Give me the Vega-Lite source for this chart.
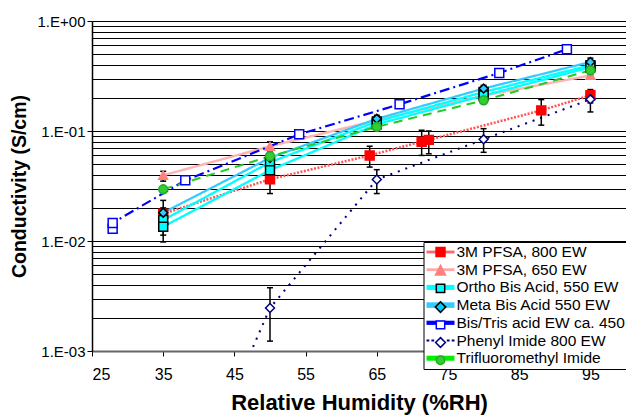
{
  "$schema": "https://vega.github.io/schema/vega-lite/v6.json",
  "width": 534,
  "height": 330,
  "autosize": "none",
  "padding": {"left": 92, "top": 21, "right": 0, "bottom": 68},
  "background": "white",
  "config": {
    "view": {"stroke": null},
    "axisY": {
      "labelFont": "Liberation Sans",
      "labelFontSize": 15, "labelColor": "black", "labelPadding": 2,
      "tickColor": "black", "tickWidth": 1, "tickSize": 5,
      "domainColor": "black", "domainWidth": 1.5,
      "titleFont": "Liberation Sans", "titleFontWeight": "bold", "titleFontSize": 19.5,
      "titleColor": "black", "titlePadding": 8
    },
    "axisX": {
      "labelFont": "Liberation Sans",
      "labelFontSize": 16, "labelColor": "black", "labelPadding": 10,
      "tickColor": "black", "tickWidth": 1, "tickSize": 5,
      "domainColor": "#666666", "domainWidth": 2,
      "titleFont": "Liberation Sans", "titleFontWeight": "bold", "titleFontSize": 22,
      "titleColor": "black", "titlePadding": 10
    }
  },
  "datasets": {
    "pts": [
      {"s": "3M PFSA, 800 EW", "run": "a", "i": 1, "x": 35, "y": 0.0177},
      {"s": "3M PFSA, 800 EW", "run": "a", "i": 2, "x": 50, "y": 0.0364},
      {"s": "3M PFSA, 800 EW", "run": "a", "i": 3, "x": 64, "y": 0.060},
      {"s": "3M PFSA, 800 EW", "run": "a", "i": 4, "x": 71.3, "y": 0.080},
      {"s": "3M PFSA, 800 EW", "run": "a", "i": 5, "x": 72.3, "y": 0.083},
      {"s": "3M PFSA, 800 EW", "run": "a", "i": 6, "x": 88.1, "y": 0.154},
      {"s": "3M PFSA, 800 EW", "run": "a", "i": 7, "x": 95, "y": 0.211},
      {"s": "3M PFSA, 650 EW", "run": "a", "i": 1, "x": 35, "y": 0.0396},
      {"s": "3M PFSA, 650 EW", "run": "a", "i": 2, "x": 50, "y": 0.0726},
      {"s": "3M PFSA, 650 EW", "run": "a", "i": 3, "x": 65, "y": 0.125},
      {"s": "3M PFSA, 650 EW", "run": "a", "i": 4, "x": 80, "y": 0.21},
      {"s": "3M PFSA, 650 EW", "run": "a", "i": 5, "x": 95, "y": 0.32},
      {"s": "Ortho Bis Acid, 550 EW", "run": "a", "i": 1, "x": 35, "y": 0.0155},
      {"s": "Ortho Bis Acid, 550 EW", "run": "a", "i": 2, "x": 50, "y": 0.052},
      {"s": "Ortho Bis Acid, 550 EW", "run": "a", "i": 3, "x": 65, "y": 0.122},
      {"s": "Ortho Bis Acid, 550 EW", "run": "a", "i": 4, "x": 80, "y": 0.226},
      {"s": "Ortho Bis Acid, 550 EW", "run": "a", "i": 5, "x": 95, "y": 0.396},
      {"s": "Ortho Bis Acid, 550 EW", "run": "b", "i": 1, "x": 35, "y": 0.0135},
      {"s": "Ortho Bis Acid, 550 EW", "run": "b", "i": 2, "x": 50, "y": 0.044},
      {"s": "Ortho Bis Acid, 550 EW", "run": "b", "i": 3, "x": 65, "y": 0.115},
      {"s": "Ortho Bis Acid, 550 EW", "run": "b", "i": 4, "x": 80, "y": 0.21},
      {"s": "Ortho Bis Acid, 550 EW", "run": "b", "i": 5, "x": 95, "y": 0.38},
      {"s": "Meta Bis Acid 550 EW", "run": "a", "i": 1, "x": 35, "y": 0.0181},
      {"s": "Meta Bis Acid 550 EW", "run": "a", "i": 2, "x": 50, "y": 0.057},
      {"s": "Meta Bis Acid 550 EW", "run": "a", "i": 3, "x": 65, "y": 0.129},
      {"s": "Meta Bis Acid 550 EW", "run": "a", "i": 4, "x": 80, "y": 0.243},
      {"s": "Meta Bis Acid 550 EW", "run": "a", "i": 5, "x": 95, "y": 0.424},
      {"s": "Bis/Tris acid EW ca. 450", "run": "a", "i": 1, "x": 27.9, "y": 0.0129},
      {"s": "Bis/Tris acid EW ca. 450", "run": "a", "i": 2, "x": 27.9, "y": 0.0146},
      {"s": "Bis/Tris acid EW ca. 450", "run": "a", "i": 3, "x": 38.1, "y": 0.0356},
      {"s": "Bis/Tris acid EW ca. 450", "run": "a", "i": 4, "x": 54.1, "y": 0.0933},
      {"s": "Bis/Tris acid EW ca. 450", "run": "a", "i": 5, "x": 68.2, "y": 0.175},
      {"s": "Bis/Tris acid EW ca. 450", "run": "a", "i": 6, "x": 82.2, "y": 0.337},
      {"s": "Bis/Tris acid EW ca. 450", "run": "a", "i": 7, "x": 91.7, "y": 0.553},
      {"s": "Phenyl Imide 800 EW", "run": "a", "i": 1, "x": 40, "y": 0.00008},
      {"s": "Phenyl Imide 800 EW", "run": "a", "i": 2, "x": 50, "y": 0.00246},
      {"s": "Phenyl Imide 800 EW", "run": "a", "i": 3, "x": 65, "y": 0.0362},
      {"s": "Phenyl Imide 800 EW", "run": "a", "i": 4, "x": 80, "y": 0.084},
      {"s": "Phenyl Imide 800 EW", "run": "a", "i": 5, "x": 95, "y": 0.194},
      {"s": "Trifluoromethyl Imide", "run": "a", "i": 1, "x": 35, "y": 0.0295},
      {"s": "Trifluoromethyl Imide", "run": "a", "i": 2, "x": 50, "y": 0.0589},
      {"s": "Trifluoromethyl Imide", "run": "a", "i": 3, "x": 65, "y": 0.109},
      {"s": "Trifluoromethyl Imide", "run": "a", "i": 4, "x": 80, "y": 0.19},
      {"s": "Trifluoromethyl Imide", "run": "a", "i": 5, "x": 95, "y": 0.356}
    ],
    "err": [
      {"x": 35, "lo": 0.035, "hi": 0.043},
      {"x": 35, "lo": 0.0098, "hi": 0.0234},
      {"x": 35, "lo": 0.0113, "hi": 0.020},
      {"x": 50, "lo": 0.066, "hi": 0.0797},
      {"x": 50, "lo": 0.027, "hi": 0.046},
      {"x": 50, "lo": 0.040, "hi": 0.062},
      {"x": 64, "lo": 0.047, "hi": 0.0727},
      {"x": 50, "lo": 0.00123, "hi": 0.00376},
      {"x": 65, "lo": 0.027, "hi": 0.0445},
      {"x": 65, "lo": 0.100, "hi": 0.139},
      {"x": 71.3, "lo": 0.060, "hi": 0.1016},
      {"x": 72.3, "lo": 0.062, "hi": 0.100},
      {"x": 80, "lo": 0.18, "hi": 0.26},
      {"x": 80, "lo": 0.064, "hi": 0.105},
      {"x": 88.1, "lo": 0.113, "hi": 0.193},
      {"x": 95, "lo": 0.32, "hi": 0.46},
      {"x": 95, "lo": 0.18, "hi": 0.238},
      {"x": 95, "lo": 0.149, "hi": 0.226}
    ]
  },
  "encoding": {
    "x": {
      "field": "x", "type": "quantitative",
      "scale": {"domain": [25, 100], "nice": false, "zero": false},
      "axis": {"values": [25, 35, 45, 55, 65, 75, 85, 95], "grid": false, "title": "Relative Humidity (%RH)", "labelOverlap": false}
    },
    "y": {
      "field": "y", "type": "quantitative",
      "scale": {"type": "log", "domain": [0.001, 1], "nice": false},
      "axis": {
        "title": "Conductivity (S/cm)",
        "values": [0.001, 0.002, 0.003, 0.004, 0.005, 0.006, 0.007, 0.008, 0.009, 0.01, 0.02, 0.03, 0.04, 0.05, 0.06, 0.07, 0.08, 0.09, 0.1, 0.2, 0.3, 0.4, 0.5, 0.6, 0.7, 0.8, 0.9, 1],
        "grid": true, "gridColor": "black", "gridWidth": 1, "gridOpacity": 1,
        "labelOverlap": false,
        "labelExpr": "abs(log(datum.value)/LN10 - round(log(datum.value)/LN10)) < 0.000001 ? ('1.E' + (datum.value > 0.999 ? '+00' : '-0' + round(-log(datum.value)/LN10))) : ''",
        "tickOpacity": {"condition": {"test": "abs(log(datum.value)/LN10 - round(log(datum.value)/LN10)) < 0.000001", "value": 1}, "value": 0}
      }
    }
  },
  "layer": [
    {
      "data": {"values": [{}]},
      "mark": {"type": "rect", "fill": "white", "stroke": "black", "strokeWidth": 1.5},
      "encoding": {
        "x": {"datum": 32.83, "type": "quantitative"},
        "x2": {"datum": 42.32},
        "y": {"datum": 0.593, "type": "quantitative"},
        "y2": {"datum": 0.2603}
      }
    },
    {
      "data": {"values": [{}]},
      "mark": {"type": "text", "text": "80ºC", "font": "Liberation Serif", "fontWeight": "bold", "fontSize": 26, "align": "center", "baseline": "alphabetic", "color": "black"},
      "encoding": {
        "x": {"datum": 37.55, "type": "quantitative"},
        "y": {"datum": 0.31, "type": "quantitative"}
      }
    },
    {
      "data": {"name": "pts"},
      "mark": {"type": "line", "clip": true},
      "encoding": {
        "color": {"field": "s", "type": "nominal", "legend": null,
          "scale": {"domain": ["3M PFSA, 800 EW", "3M PFSA, 650 EW", "Ortho Bis Acid, 550 EW", "Meta Bis Acid 550 EW", "Bis/Tris acid EW ca. 450", "Phenyl Imide 800 EW", "Trifluoromethyl Imide"],
                    "range": ["#FF5555", "#FFB4B4", "#00FFFF", "#33CCFF", "#0000FF", "#000080", "#22CC22"]}},
        "strokeWidth": {"field": "s", "type": "nominal", "legend": null,
          "scale": {"domain": ["3M PFSA, 800 EW", "3M PFSA, 650 EW", "Ortho Bis Acid, 550 EW", "Meta Bis Acid 550 EW", "Bis/Tris acid EW ca. 450", "Phenyl Imide 800 EW", "Trifluoromethyl Imide"],
                    "range": [2.5, 2, 5.5, 6.5, 2, 2, 2.5]}},
        "strokeDash": {"field": "s", "type": "nominal", "legend": null,
          "scale": {"domain": ["3M PFSA, 800 EW", "3M PFSA, 650 EW", "Ortho Bis Acid, 550 EW", "Meta Bis Acid 550 EW", "Bis/Tris acid EW ca. 450", "Phenyl Imide 800 EW", "Trifluoromethyl Imide"],
                    "range": [[2, 1.5], [1, 0], [1, 0], [1, 0], [10, 4, 2, 4], [2, 6], [9, 6]]}},
        "detail": {"field": "run"},
        "order": {"field": "i", "type": "quantitative"}
      }
    },
    {
      "data": {"name": "err"},
      "mark": {"type": "rule", "color": "black", "strokeWidth": 1.5, "clip": true},
      "encoding": {
        "y": {"field": "lo", "type": "quantitative"},
        "y2": {"field": "hi"}
      }
    },
    {
      "data": {"name": "err"},
      "mark": {"type": "tick", "orient": "horizontal", "color": "black", "size": 6, "thickness": 1.5, "opacity": 1},
      "encoding": {
        "y": {"field": "lo", "type": "quantitative"}
      }
    },
    {
      "data": {"name": "err"},
      "mark": {"type": "tick", "orient": "horizontal", "color": "black", "size": 6, "thickness": 1.5, "opacity": 1},
      "encoding": {
        "y": {"field": "hi", "type": "quantitative"}
      }
    },
    {
      "data": {"name": "pts"},
      "mark": {"type": "point", "filled": true, "size": 80, "strokeWidth": 1.5, "opacity": 1, "clip": true},
      "encoding": {
        "shape": {"field": "s", "type": "nominal", "legend": null,
          "scale": {"domain": ["3M PFSA, 800 EW", "3M PFSA, 650 EW", "Ortho Bis Acid, 550 EW", "Meta Bis Acid 550 EW", "Bis/Tris acid EW ca. 450", "Phenyl Imide 800 EW", "Trifluoromethyl Imide"],
                    "range": ["square", "triangle-up", "square", "diamond", "square", "diamond", "circle"]}},
        "fill": {"field": "s", "type": "nominal", "legend": null,
          "scale": {"domain": ["3M PFSA, 800 EW", "3M PFSA, 650 EW", "Ortho Bis Acid, 550 EW", "Meta Bis Acid 550 EW", "Bis/Tris acid EW ca. 450", "Phenyl Imide 800 EW", "Trifluoromethyl Imide"],
                    "range": ["#FF0000", "#FF8080", "#00FFFF", "#33CCFF", "#FFFFFF", "#FFFFFF", "#33CC33"]}},
        "stroke": {"field": "s", "type": "nominal", "legend": null,
          "scale": {"domain": ["3M PFSA, 800 EW", "3M PFSA, 650 EW", "Ortho Bis Acid, 550 EW", "Meta Bis Acid 550 EW", "Bis/Tris acid EW ca. 450", "Phenyl Imide 800 EW", "Trifluoromethyl Imide"],
                    "range": ["#FF0000", "#FF8080", "#000000", "#000000", "#0000FF", "#000080", "#22AA22"]}}
      }
    },
    {
      "data": {"name": "pts"},
      "transform": [{"filter": "false"}],
      "mark": {"type": "point", "filled": true, "stroke": "transparent", "strokeWidth": 1.5, "opacity": 1},
      "encoding": {
        "shape": {"field": "s", "type": "nominal",
          "scale": {"domain": ["3M PFSA, 800 EW", "3M PFSA, 650 EW", "Ortho Bis Acid, 550 EW", "Meta Bis Acid 550 EW", "Bis/Tris acid EW ca. 450", "Phenyl Imide 800 EW", "Trifluoromethyl Imide"],
                    "range": ["M-1,-0.2H3V0.2H-1Z", "M-1,-0.2H3V0.2H-1Z", "M-1,-0.36H3V0.36H-1Z", "M-1,-0.4H3V0.4H-1Z", "M-1,-0.3H3V0.3H-1Z", "M-1,-0.15H-0.6V0.15H-1ZM-0.3,-0.15H0.1V0.15H-0.3ZM1.9,-0.15H2.3V0.15H1.9ZM2.6,-0.15H3V0.15H2.6Z", "M-1,-0.36H3V0.36H-1Z"]},
          "legend": {"orient": "none", "legendX": 331.5, "legendY": 221, "title": null, "padding": 2, "strokeColor": "black", "fillColor": "white", "symbolSize": 196, "symbolStrokeWidth": 1.5, "symbolStrokeColor": "transparent", "labelFont": "Liberation Sans", "labelFontSize": 15.5, "labelColor": "black", "labelOffset": 15, "rowPadding": 0.7, "labelLimit": 400, "zindex": 1}},
        "fill": {"field": "s", "type": "nominal",
          "scale": {"domain": ["3M PFSA, 800 EW", "3M PFSA, 650 EW", "Ortho Bis Acid, 550 EW", "Meta Bis Acid 550 EW", "Bis/Tris acid EW ca. 450", "Phenyl Imide 800 EW", "Trifluoromethyl Imide"],
                    "range": ["#FF6666", "#FFA8A8", "#00FFFF", "#33CCFF", "#0000FF", "#000080", "#00EE00"]},
          "legend": {"orient": "none", "legendX": 331.5, "legendY": 221, "title": null, "padding": 2, "strokeColor": "black", "fillColor": "white", "symbolSize": 196, "symbolStrokeWidth": 1.5, "symbolStrokeColor": "transparent", "labelFont": "Liberation Sans", "labelFontSize": 15.5, "labelColor": "black", "labelOffset": 15, "rowPadding": 0.7, "labelLimit": 400, "zindex": 1}}
      }
    },
    {
      "data": {"name": "pts"},
      "transform": [{"filter": "false"}],
      "mark": {"type": "point", "filled": true, "strokeWidth": 1.5, "opacity": 1},
      "encoding": {
        "shape": {"field": "s", "type": "nominal",
          "scale": {"domain": ["3M PFSA, 800 EW", "3M PFSA, 650 EW", "Ortho Bis Acid, 550 EW", "Meta Bis Acid 550 EW", "Bis/Tris acid EW ca. 450", "Phenyl Imide 800 EW", "Trifluoromethyl Imide"],
                    "range": ["M0.36,-0.64H1.64V0.64H0.36Z", "M1,-0.75L1.72,0.6H0.28Z", "M0.4,-0.6H1.6V0.6H0.4Z", "M1,-0.75L1.75,0L1,0.75L0.25,0Z", "M0.4,-0.55H1.6V0.55H0.4Z", "M1,-0.7L1.7,0L1,0.7L0.3,0Z", "M1.6,0A0.6,0.6,0,1,1,0.4,0A0.6,0.6,0,1,1,1.6,0Z"]},
          "legend": {"orient": "none", "legendX": 331.5, "legendY": 221, "title": null, "padding": 2, "symbolSize": 196, "symbolStrokeWidth": 1.5, "labelFont": "Liberation Sans", "labelFontSize": 15.5, "labelColor": "transparent", "labelExpr": "''", "labelOffset": 15, "rowPadding": 0.7, "labelLimit": 400, "zindex": 2}},
        "fill": {"field": "s", "type": "nominal",
          "scale": {"domain": ["3M PFSA, 800 EW", "3M PFSA, 650 EW", "Ortho Bis Acid, 550 EW", "Meta Bis Acid 550 EW", "Bis/Tris acid EW ca. 450", "Phenyl Imide 800 EW", "Trifluoromethyl Imide"],
                    "range": ["#FF0000", "#FF8080", "#00FFFF", "#00CCFF", "#FFFFFF", "#FFFFFF", "#33CC33"]},
          "legend": {"orient": "none", "legendX": 331.5, "legendY": 221, "title": null, "padding": 2, "symbolSize": 196, "symbolStrokeWidth": 1.5, "labelFont": "Liberation Sans", "labelFontSize": 15.5, "labelColor": "transparent", "labelExpr": "''", "labelOffset": 15, "rowPadding": 0.7, "labelLimit": 400, "zindex": 2}},
        "stroke": {"field": "s", "type": "nominal",
          "scale": {"domain": ["3M PFSA, 800 EW", "3M PFSA, 650 EW", "Ortho Bis Acid, 550 EW", "Meta Bis Acid 550 EW", "Bis/Tris acid EW ca. 450", "Phenyl Imide 800 EW", "Trifluoromethyl Imide"],
                    "range": ["#FF0000", "#FF8080", "#000000", "#000000", "#0000FF", "#000080", "#22AA22"]},
          "legend": {"orient": "none", "legendX": 331.5, "legendY": 221, "title": null, "padding": 2, "symbolSize": 196, "symbolStrokeWidth": 1.5, "labelFont": "Liberation Sans", "labelFontSize": 15.5, "labelColor": "transparent", "labelExpr": "''", "labelOffset": 15, "rowPadding": 0.7, "labelLimit": 400, "zindex": 2}}
      }
    }
  ],
  "resolve": {
    "scale": {"shape": "independent", "fill": "independent", "stroke": "independent"},
    "legend": {"shape": "independent", "fill": "independent", "stroke": "independent"}
  }
}
